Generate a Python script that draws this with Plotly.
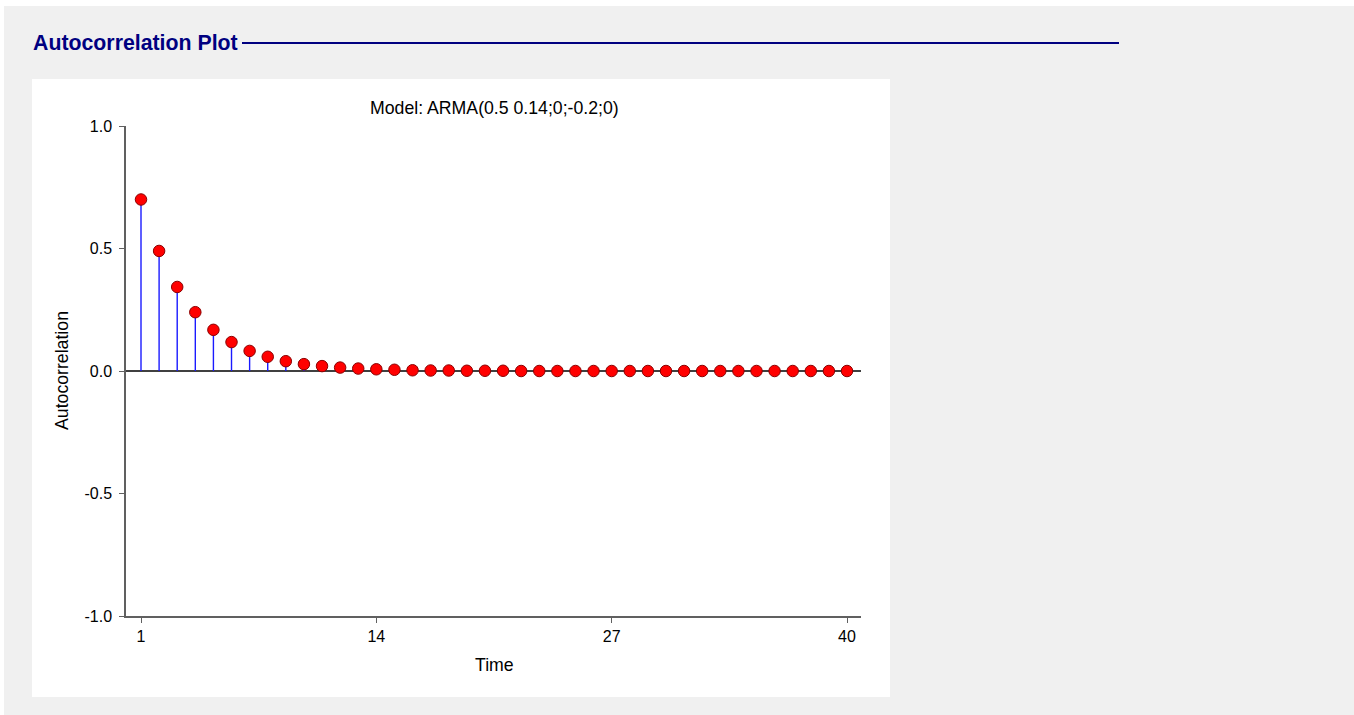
import plotly.graph_objects as go

# Data
lags = list(range(1, 41))
acf = [0.700, 0.490, 0.343, 0.240, 0.168, 0.118, 0.082, 0.058, 0.040, 0.028,
       0.020, 0.014, 0.010, 0.007, 0.005, 0.003, 0.002, 0.002, 0.001, 0.001,
       0.001, 0.0, 0.0, 0.0, 0.0, 0.0, 0.0, 0.0, 0.0, 0.0,
       0.0, 0.0, 0.0, 0.0, 0.0, 0.0, 0.0, 0.0, 0.0, 0.0]
x_ticks = [1, 14, 27, 40]
y_ticks = [-1.0, -0.5, 0.0, 0.5, 1.0]
y_tick_labels = ["-1.0", "-0.5", "0.0", "0.5", "1.0"]

W, H = 1354, 715
L, R, T, B = 126, 861, 126, 616  # plot area in pixels

def px(x):
    return (x - L) / (R - L)

def py(y):
    return (B - y) / (B - T)

FONT = "Liberation Sans, Arial, sans-serif"
LBL = 17.7

stem_x, stem_y = [], []
for lx, v in zip(lags, acf):
    stem_x += [lx, lx, None]
    stem_y += [0, v, None]

fig = go.Figure()
fig.add_trace(go.Scatter(x=stem_x, y=stem_y, mode="lines",
                         line=dict(color="#1a1aff", width=1.4),
                         hoverinfo="skip", showlegend=False))
fig.add_trace(go.Scatter(x=lags, y=acf, mode="markers",
                         marker=dict(color="#ff0000", size=11.5,
                                     line=dict(color="#8b0000", width=1)),
                         showlegend=False))

shapes = [
    dict(type="rect", xref="paper", yref="paper",
         x0=px(4), x1=px(W + 5), y0=py(H + 5), y1=py(6),
         fillcolor="#f0f0f0", line=dict(width=0), layer="below"),
    dict(type="rect", xref="paper", yref="paper",
         x0=px(32), x1=px(890), y0=py(697), y1=py(79),
         fillcolor="#ffffff", line=dict(width=0), layer="below"),
    dict(type="line", xref="paper", yref="paper",
         x0=px(242), x1=px(1119), y0=py(43), y1=py(43),
         line=dict(color="#000080", width=2)),
]

annotations = [
    dict(text="<b>Autocorrelation Plot</b>", xref="paper", yref="paper",
         x=px(31), y=py(43), xanchor="left", yanchor="middle", showarrow=False,
         font=dict(family=FONT, size=21.3, color="#000080")),
    dict(text="Model: ARMA(0.5 0.14;0;-0.2;0)", xref="paper", yref="paper",
         x=px(494), y=py(108), xanchor="center", yanchor="middle", showarrow=False,
         font=dict(family=FONT, size=LBL, color="#000000")),
    dict(text="Time", xref="paper", yref="paper",
         x=px(494), y=py(665), xanchor="center", yanchor="middle", showarrow=False,
         font=dict(family=FONT, size=LBL, color="#000000")),
    dict(text="Autocorrelation", xref="paper", yref="paper", textangle=-90,
         x=px(62), y=py(371), xanchor="center", yanchor="middle", showarrow=False,
         font=dict(family=FONT, size=LBL, color="#000000")),
]

fig.update_layout(
    width=W, height=H,
    margin=dict(l=L, r=W - R, t=T, b=H - B, pad=0),
    paper_bgcolor="#ffffff", plot_bgcolor="rgba(0,0,0,0)",
    font=dict(family=FONT, size=15, color="#000000"),
    shapes=shapes, annotations=annotations,
    xaxis=dict(range=[1 - 15 / 18.1, 40 + 14 / 18.1], tickvals=x_ticks,
               ticktext=[str(t) for t in x_ticks],
               showgrid=False, zeroline=False, showline=True,
               linecolor="#606060", linewidth=1.5, ticks="outside",
               ticklen=5, tickcolor="#606060", tickwidth=1,
               tickfont=dict(size=16, color="#000000")),
    yaxis=dict(range=[-1, 1], tickvals=y_ticks, ticktext=y_tick_labels,
               showgrid=False, zeroline=True, zerolinecolor="#404040",
               zerolinewidth=1.5, showline=True, linecolor="#606060",
               linewidth=1.5, ticks="outside", ticklen=5, tickcolor="#606060",
               tickwidth=1, ticklabelstandoff=4,
               tickfont=dict(size=16, color="#000000")),
)

fig.write_html("out.html")
